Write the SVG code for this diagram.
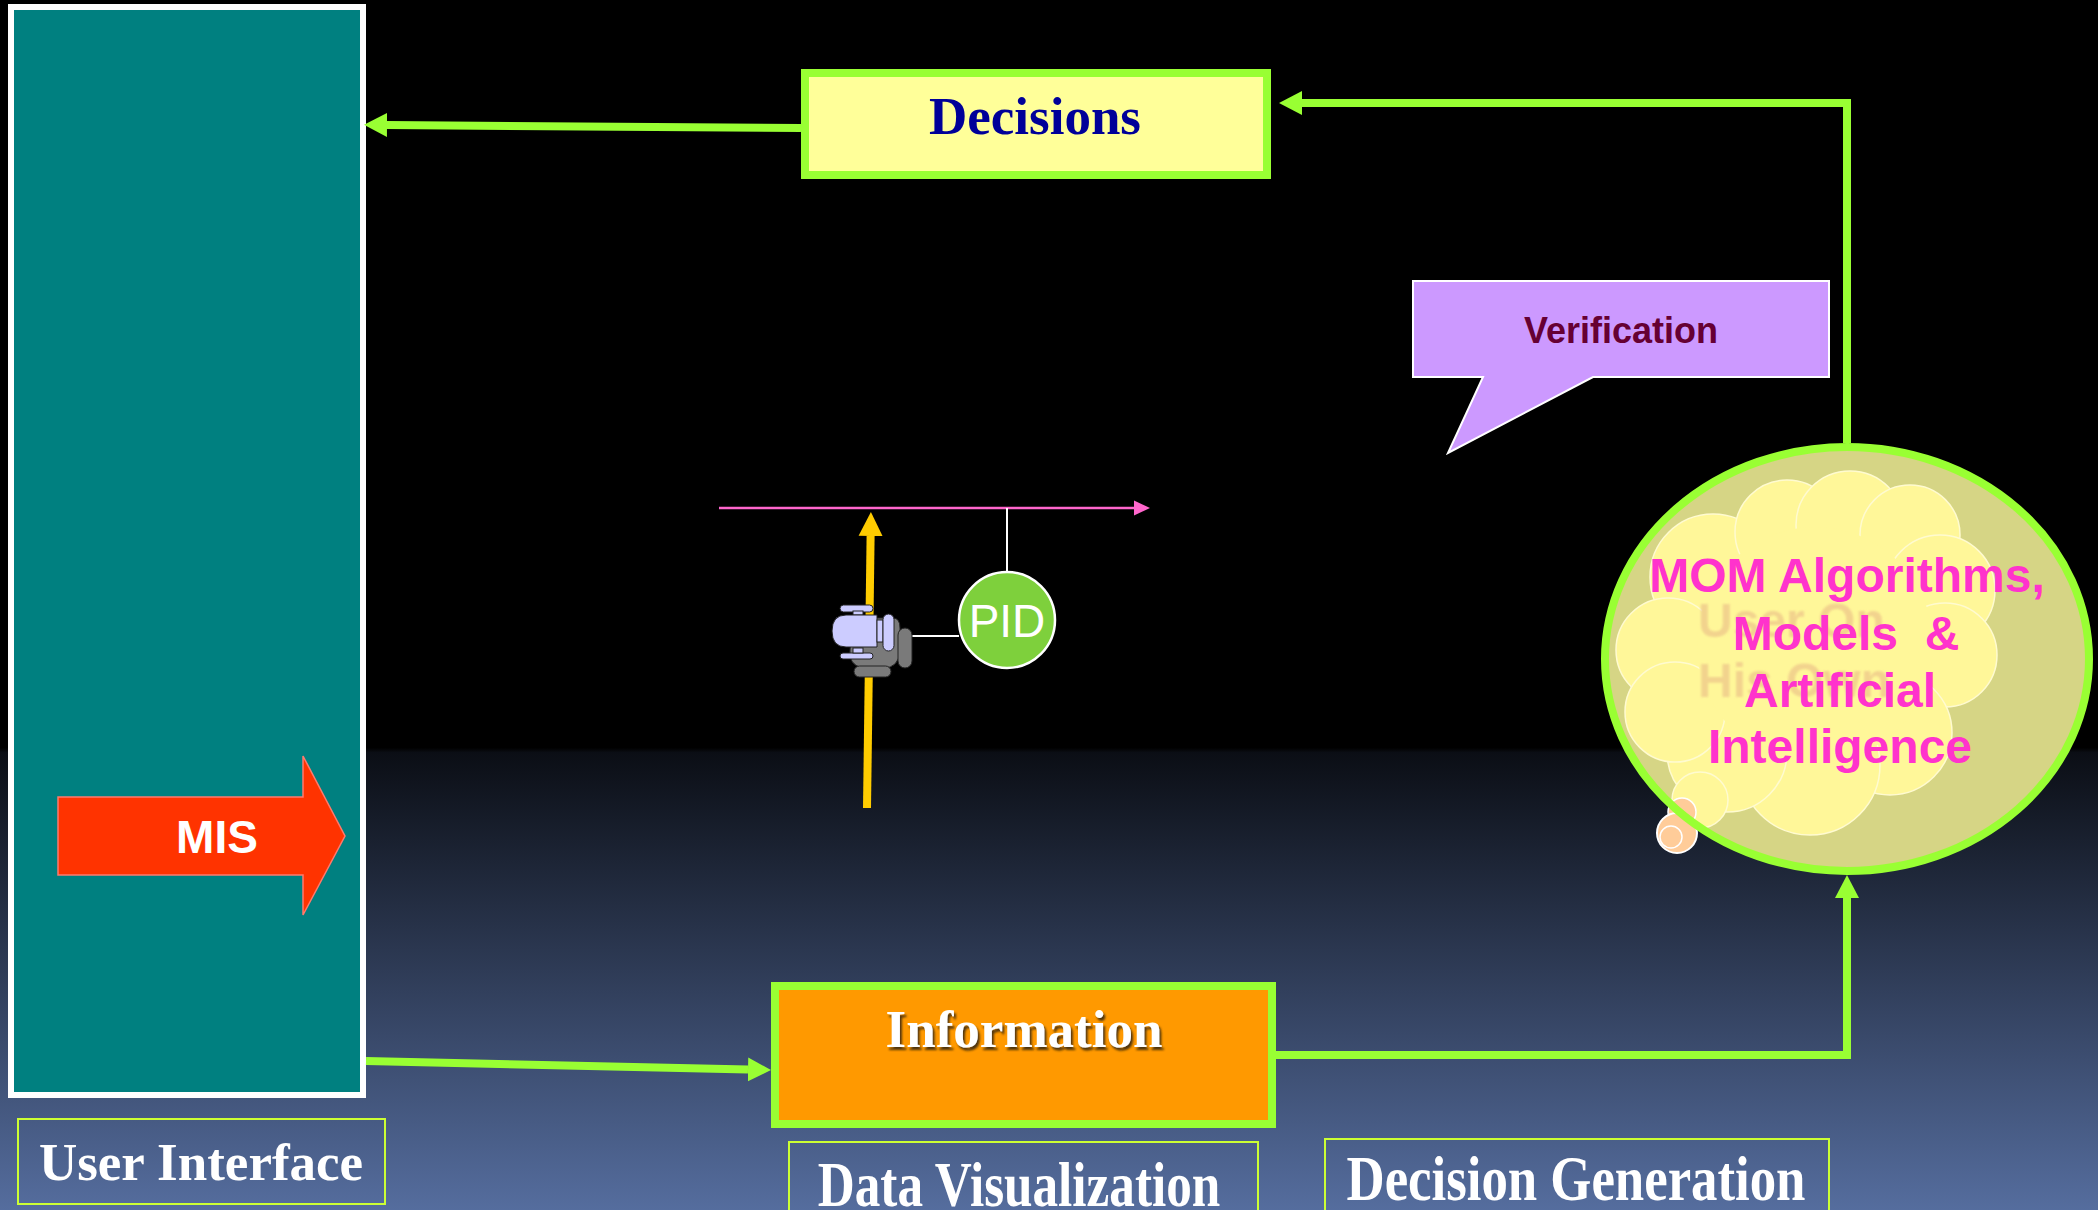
<svg xmlns="http://www.w3.org/2000/svg" width="2098" height="1210" viewBox="0 0 2098 1210">
  <defs>
    <linearGradient id="bg" x1="0" y1="0" x2="0" y2="1">
      <stop offset="0" stop-color="#000000"/>
      <stop offset="0.618" stop-color="#000000"/>
      <stop offset="0.622" stop-color="#0b0e15"/>
      <stop offset="1" stop-color="#556d9e"/>
    </linearGradient>
    <marker id="greenHead" markerUnits="userSpaceOnUse" markerWidth="23" markerHeight="26" refX="0" refY="13" orient="auto">
      <path d="M0,1 L23,13 L0,25 z" fill="#99ff33"/>
    </marker>
    <marker id="yellowHead" markerUnits="userSpaceOnUse" markerWidth="24" markerHeight="26" refX="0" refY="13" orient="auto">
      <path d="M0,1 L24,13 L0,25 z" fill="#ffcc00"/>
    </marker>
    <marker id="pinkHead" markerUnits="userSpaceOnUse" markerWidth="16" markerHeight="16" refX="0" refY="8" orient="auto">
      <path d="M0,0.5 L16,8 L0,15.5 z" fill="#ff66cc"/>
    </marker>
    <filter id="textShadow" x="-10%" y="-30%" width="120%" height="160%">
      <feDropShadow dx="2" dy="3" stdDeviation="1" flood-color="#3a2a10" flood-opacity="0.9"/>
    </filter>
    <filter id="soft" x="-10%" y="-30%" width="120%" height="160%">
      <feGaussianBlur stdDeviation="1.2"/>
    </filter>
  </defs>
  <style>
    .serifLabel { font-family: "Liberation Serif", "Times New Roman", serif; font-weight: bold; }
    .sansLabel { font-family: "Liberation Sans", Arial, sans-serif; font-weight: bold; }
    .conn { fill: none; stroke: #99ff33; stroke-width: 8; stroke-linejoin: miter; }
    .caption { fill: none; stroke: #ccff33; stroke-width: 2; }
    .captionText { fill: #ffffff; font-size: 64px; }
    .bump { fill: #fff799; stroke: #fffbd0; stroke-width: 1.5; }
  </style>

  <!-- backdrop -->
  <rect x="0" y="0" width="2098" height="1210" fill="url(#bg)"/>

  <!-- user interface panel -->
  <g id="user-interface">
    <rect x="11" y="7" width="352" height="1088" fill="#008080" stroke="#ffffff" stroke-width="6"/>
  </g>

  <!-- MIS arrow -->
  <g id="mis">
    <path d="M58,797 L303,797 L303,756 L345,836 L303,915 L303,875 L58,875 z" fill="#ff3300" stroke="#ff7a6e" stroke-width="1.5"/>
    <text class="sansLabel" x="217" y="853" font-size="46" fill="#ffffff" text-anchor="middle">MIS</text>
  </g>

  <!-- connectors -->
  <g id="connectors">
    <path class="conn" d="M801,128 L387,125" marker-end="url(#greenHead)"/>
    <path class="conn" d="M1847,443 L1847,103 L1302,103" marker-end="url(#greenHead)"/>
    <path class="conn" d="M366,1061 L748,1069.5" marker-end="url(#greenHead)"/>
    <path class="conn" d="M1276,1055 L1847,1055 L1847,898" marker-end="url(#greenHead)"/>
    <path d="M719,508 L1134,508" stroke="#ff66cc" stroke-width="2.5" fill="none" marker-end="url(#pinkHead)"/>
    <path d="M867,808 L870.6,536" stroke="#ffcc00" stroke-width="8" fill="none" marker-end="url(#yellowHead)"/>
    <path d="M1007,508 L1007,572" stroke="#ffffff" stroke-width="2" fill="none"/>
    <path d="M897,636 L959,636" stroke="#ffffff" stroke-width="2" fill="none"/>
  </g>

  <!-- decisions -->
  <g id="decisions">
    <rect x="805" y="73" width="462" height="102" fill="#ffff99" stroke="#99ff33" stroke-width="8"/>
    <text class="serifLabel" x="1035" y="134" font-size="53" fill="#000099" text-anchor="middle">Decisions</text>
  </g>

  <!-- information -->
  <g id="information">
    <rect x="775" y="986" width="497" height="138" fill="#ff9900" stroke="#99ff33" stroke-width="8"/>
    <text class="serifLabel" x="1024" y="1047" font-size="53" fill="#ffffff" text-anchor="middle" filter="url(#textShadow)">Information</text>
  </g>

  <!-- verification callout -->
  <g id="verification">
    <path d="M1413,281 L1829,281 L1829,377 L1593,377 L1448,453 L1483,377 L1413,377 z" fill="#cc99ff" stroke="#ffffff" stroke-width="2" stroke-linejoin="miter"/>
    <text class="sansLabel" x="1621" y="343" font-size="36" fill="#660033" text-anchor="middle">Verification</text>
  </g>

  <!-- PID controller -->
  <g id="pid">
    <circle cx="1007" cy="620" r="48" fill="#7ed03c" stroke="#ffffff" stroke-width="2.5"/>
    <text x="1007" y="637" font-family="Liberation Sans, Arial, sans-serif" font-size="46" fill="#ffffff" text-anchor="middle">PID</text>
  </g>

  <!-- actuator icon on the yellow line -->
  <g id="actuator" stroke="#222222" stroke-width="1">
    <path d="M852,626 Q850,618 862,618 L893,618 Q900,618 900,628 L900,652 Q898,668 884,668 L862,668 Q848,664 850,650 z" fill="#7a7a7a"/>
    <rect x="898" y="628" width="14" height="40" rx="7" fill="#7a7a7a"/>
    <rect x="854" y="666" width="37" height="11" rx="5.5" fill="#7a7a7a"/>
    <rect x="840" y="605" width="33" height="7" rx="3.5" fill="#ccccff"/>
    <rect x="853" y="611" width="10" height="4" fill="#ccccff"/>
    <rect x="840" y="653" width="33" height="6" rx="3" fill="#ccccff"/>
    <rect x="853" y="648" width="10" height="5" fill="#ccccff"/>
    <path d="M846,615 L877,615 L877,647 L846,647 Q832,647 832,631 Q832,615 846,615 z" fill="#ccccff"/>
    <rect x="877" y="620" width="6" height="22" fill="#ccccff"/>
    <rect x="883" y="614" width="11" height="37" rx="5.5" fill="#ccccff"/>
  </g>

  <!-- model / algorithm bubble -->
  <g id="mom">
    <ellipse cx="1847" cy="659" rx="242" ry="212" fill="#d6d585"/>
    <circle class="bump" cx="1713" cy="577" r="63"/>
    <circle class="bump" cx="1787" cy="532" r="52"/>
    <circle class="bump" cx="1850" cy="525" r="54"/>
    <circle class="bump" cx="1910" cy="535" r="50"/>
    <circle class="bump" cx="1940" cy="590" r="55"/>
    <circle class="bump" cx="1945" cy="655" r="52"/>
    <circle class="bump" cx="1890" cy="733" r="62"/>
    <circle class="bump" cx="1810" cy="765" r="70"/>
    <circle class="bump" cx="1727" cy="752" r="60"/>
    <circle class="bump" cx="1668" cy="650" r="52"/>
    <circle class="bump" cx="1675" cy="712" r="50"/>
    <circle cx="1815" cy="645" r="118" fill="#fff799"/>
    <circle cx="1700" cy="800" r="28" fill="#fff799" stroke="#fffbd0" stroke-width="1.5"/>
    <circle cx="1682" cy="812" r="14" fill="#ffcc99" stroke="#ffffff" stroke-width="1.5"/>
    <circle cx="1677" cy="833" r="20" fill="#ffcc99" stroke="#ffffff" stroke-width="2"/>
    <circle cx="1671" cy="837" r="11" fill="#ffcc99" stroke="#ffffff" stroke-width="1.5"/>
    <ellipse cx="1847" cy="659" rx="242" ry="212" fill="none" stroke="#99ff33" stroke-width="8"/>
    <g class="sansLabel" font-size="48" fill="#f0cd8c" opacity="0.85" filter="url(#soft)">
      <text x="1698" y="637">User On</text>
      <text x="1698" y="697">His Own</text>
    </g>
    <g class="sansLabel" font-size="48" fill="#ff33cc" text-anchor="middle">
      <text x="1847" y="592">MOM Algorithms,</text>
      <text x="1846" y="650" xml:space="preserve">Models  &amp;</text>
      <text x="1840" y="707">Artificial</text>
      <text x="1840" y="763">Intelligence</text>
    </g>
  </g>

  <!-- captions -->
  <g id="caption-user-interface">
    <rect class="caption" x="18" y="1119" width="367" height="85"/>
    <text class="serifLabel" x="201" y="1180" font-size="53" fill="#ffffff" text-anchor="middle">User Interface</text>
  </g>
  <g id="caption-data-visualization">
    <rect class="caption" x="789" y="1142" width="469" height="80"/>
    <text class="serifLabel captionText" transform="translate(1019,1206) scale(0.8,1)" x="0" y="0" text-anchor="middle">Data Visualization</text>
  </g>
  <g id="caption-decision-generation">
    <rect class="caption" x="1325" y="1139" width="504" height="80"/>
    <text class="serifLabel captionText" transform="translate(1576,1200) scale(0.825,1)" x="0" y="0" text-anchor="middle">Decision Generation</text>
  </g>
</svg>
